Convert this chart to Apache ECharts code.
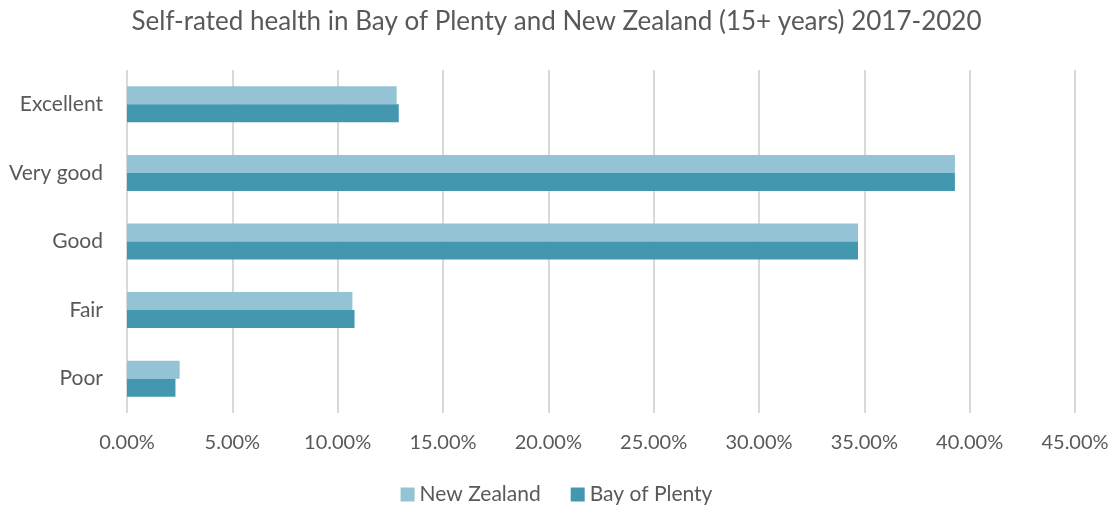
<!DOCTYPE html>
<html lang="en">
<head>
    <meta charset="UTF-8">
    <title>Self-rated health</title>
    <script src="https://cdn.jsdelivr.net/npm/echarts@6.0.0/dist/echarts.min.js"></script>
</head>
<body style="margin: 0; background-color: white;">
<div id="chart" style="width: 1113px; height: 512px;"></div>
<script>
    // categories and values (%)
    const categories = ['Excellent', 'Very good', 'Good', 'Fair', 'Poor'];
    const newZealand = [12.8, 39.3, 34.7, 10.7, 2.5];
    const bayOfPlenty = [12.9, 39.3, 34.7, 10.8, 2.3];

    const font = 'Lato, "Open Sans", sans-serif';
    const myChart = echarts.init(document.getElementById('chart'));

    myChart.setOption({
        animation: false,
        title: {
            text: 'Self-rated health in Bay of Plenty and New Zealand (15+ years) 2017-2020',
            left: 'center',
            top: 4,
            textStyle: { fontFamily: font, fontSize: 26, fontWeight: 'normal', color: '#595959' }
        },
        legend: {
            bottom: 2,
            left: 'center',
            itemWidth: 14,
            itemHeight: 14,
            itemGap: 30,
            icon: 'rect',
            textStyle: { fontFamily: font, fontSize: 21, color: '#595959' },
            data: ['New Zealand', 'Bay of Plenty']
        },
        grid: { left: 127, right: 38, top: 70, bottom: 99 },
        xAxis: {
            type: 'value',
            min: 0,
            max: 45,
            interval: 5,
            axisLine: { show: false },
            axisTick: { show: false },
            splitLine: { lineStyle: { color: '#d9d9d9', width: 2 } },
            axisLabel: {
                fontFamily: font, fontSize: 20, color: '#595959', margin: 20,
                formatter: v => v.toFixed(2) + '%'
            }
        },
        yAxis: {
            type: 'category',
            inverse: true,
            data: categories,
            axisLine: { show: false },
            axisTick: { show: false },
            axisLabel: { fontFamily: font, fontSize: 21, color: '#595959', margin: 24 }
        },
        series: [
            {
                name: 'New Zealand',
                type: 'bar',
                barWidth: 18,
                barGap: '0%',
                itemStyle: { color: '#93c3d4' },
                data: newZealand
            },
            {
                name: 'Bay of Plenty',
                type: 'bar',
                barWidth: 18,
                itemStyle: { color: '#4398b0' },
                data: bayOfPlenty
            }
        ]
    });
</script>
</body>
</html>
